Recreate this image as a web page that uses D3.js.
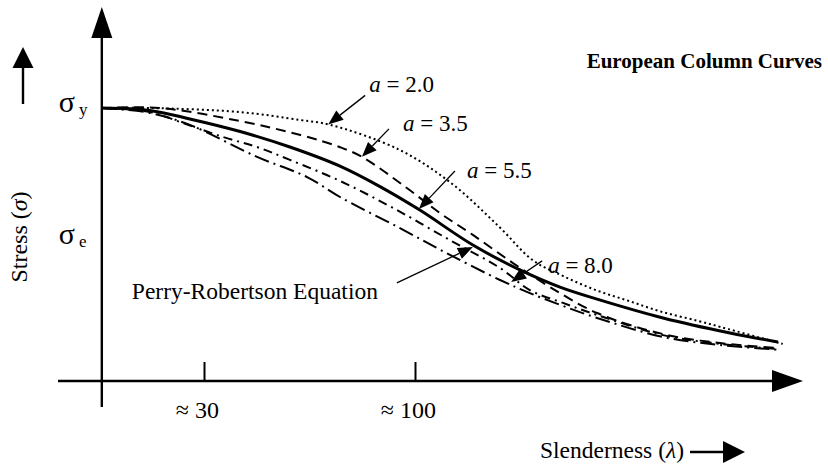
<!DOCTYPE html>
<html>
<head>
<meta charset="utf-8">
<script src="https://cdn.jsdelivr.net/npm/d3@7"></script>
<style>
  body { margin: 0; background: #fff; }
  svg { display: block; }
  text { font-family: "Liberation Serif", "Times New Roman", serif; fill: #000; }
</style>
</head>
<body>
<svg id="chart" width="828" height="467"></svg>
<script>
// Slenderness ticks (approximate values)
const slendernessTicks = [30, 100];
const slendernessTickLabels = ["\u2248 30", "\u2248 100"];

// Stress levels marked on the vertical axis (as a fraction of yield stress)
const stressLevels = [1.0, 0.516];
const stressLevelSymbols = ["y", "e"];

// Column curves: slenderness λ and stress ratio σ/σy
const lambdaA20 = [-3.9, 12, 42, 62, 72, 95, 112, 128, 139, 149, 160, 171, 182, 194, 204, 222];
const stressA20 = [1.0, 1.0, 0.985, 0.956, 0.938, 0.846, 0.725, 0.564, 0.443, 0.385, 0.333, 0.293, 0.253, 0.220, 0.190, 0.136];

const lambdaA35 = [-3.9, 15.4, 42, 62, 75, 82.4, 97.3, 108.3, 119.2, 132.5, 144.8, 160.4, 182.3, 201.2, 220.4];
const stressA35 = [1.0, 1.0, 0.952, 0.901, 0.857, 0.821, 0.707, 0.615, 0.535, 0.432, 0.344, 0.249, 0.172, 0.139, 0.121];

const lambdaA55 = [-3.9, 12, 25.3, 42, 58.5, 75.1, 88.4, 101.6, 119.2, 134.8, 148.1, 160.4, 182.3, 204.5, 220.4];
const stressA55 = [1.0, 0.991, 0.960, 0.914, 0.857, 0.787, 0.712, 0.626, 0.498, 0.407, 0.344, 0.300, 0.231, 0.176, 0.143];

const lambdaA80 = [-3.9, 12, 23, 36.3, 47.6, 58.5, 75.1, 92.7, 111.6, 128.2, 138.1, 149.1, 160.4, 182.3, 201.2, 220.4];
const stressA80 = [1.0, 0.985, 0.945, 0.894, 0.857, 0.810, 0.733, 0.634, 0.516, 0.414, 0.333, 0.286, 0.242, 0.168, 0.136, 0.117];

const lambdaPerry = [-3.9, 12, 25.3, 47.6, 64.2, 75.1, 95, 111.6, 128.2, 138.1, 149.1, 160.4, 182.3, 201.2, 221.1];
const stressPerry = [1.0, 0.982, 0.938, 0.821, 0.747, 0.674, 0.560, 0.462, 0.370, 0.322, 0.275, 0.231, 0.161, 0.132, 0.114];

// Curve labels and the point each pointer touches
const curveLabels = ["a = 2.0", "a = 3.5", "a = 5.5", "a = 8.0", "Perry-Robertson Equation"];
const labelLambda = [71.2, 82.4, 101.3, 131.9, 119.2];
const labelStress = [0.940, 0.821, 0.630, 0.363, 0.491];

const svg = d3.select("#chart");

const x = d3.scaleLinear().domain([30, 100]).range([204, 415]);
const y = d3.scaleLinear().domain([0, 1]).range([381, 108]);

const originLambda = -3.9;
const x0 = x(originLambda);
const y0 = y(0);

function arrowHead(g, x1, y1, x2, y2, len, halfW) {
  const a = Math.atan2(y2 - y1, x2 - x1);
  const bx = x2 - len * Math.cos(a), by = y2 - len * Math.sin(a);
  const px = -Math.sin(a) * halfW, py = Math.cos(a) * halfW;
  g.append("path")
    .attr("d", `M${x2},${y2}L${bx + px},${by + py}L${bx - px},${by - py}Z`)
    .attr("fill", "#000");
  return [bx, by];
}

function arrow(g, x1, y1, x2, y2, len, halfW, width) {
  const [bx, by] = arrowHead(g, x1, y1, x2, y2, len, halfW);
  g.append("line")
    .attr("x1", x1).attr("y1", y1).attr("x2", bx).attr("y2", by)
    .attr("stroke", "#000").attr("stroke-width", width);
}

const axes = svg.append("g");

// Horizontal axis with tick marks rising from the line
const xAxis = d3.axisBottom(x)
  .tickValues(slendernessTicks)
  .tickSize(-19)
  .tickPadding(20)
  .tickFormat((d, i) => slendernessTickLabels[i]);

const xAxisG = axes.append("g")
  .attr("transform", `translate(0,${y0})`)
  .call(xAxis);
xAxisG.select(".domain").remove();
xAxisG.selectAll(".tick line").attr("stroke", "#000").attr("stroke-width", 2);
xAxisG.selectAll(".tick text")
  .attr("font-family", "Liberation Serif")
  .attr("font-size", 24)
  .attr("dx", "-0.3em")
  .attr("fill", "#000");

arrow(axes, 58, y0, 803, y0, 31, 11, 2.4);
arrow(axes, x0, 407, x0, 7, 31, 10.5, 2.4);

// Vertical axis stress marks
const yAxis = d3.axisLeft(y)
  .tickValues(stressLevels)
  .tickSize(0)
  .tickPadding(10)
  .tickFormat(() => "");
const yAxisG = axes.append("g")
  .attr("transform", `translate(${x0},0)`)
  .call(yAxis);
yAxisG.select(".domain").remove();
yAxisG.selectAll(".tick").each(function (d, i) {
  const t = d3.select(this).select("text")
    .attr("x", -43).attr("dy", "0.3em")
    .attr("text-anchor", "start");
  t.append("tspan").attr("font-size", 30).text("\u03c3");
  t.append("tspan").attr("font-size", 17).attr("dx", 4).attr("dy", 3).text(stressLevelSymbols[i]);
});

// Axis titles
svg.append("text")
  .attr("transform", "translate(27,237) rotate(-90)")
  .attr("text-anchor", "middle")
  .attr("font-size", 24)
  .html('Stress (<tspan font-style="italic">\u03c3</tspan>)');

svg.append("text")
  .attr("x", 540).attr("y", 458)
  .attr("font-size", 23.5)
  .html('Slenderness (<tspan font-style="italic">\u03bb</tspan>)');

arrow(svg, 23, 104, 23, 47, 21, 10.5, 2.4);
arrow(svg, 690, 452, 745, 452, 22, 11, 2.4);

svg.append("text")
  .attr("x", 822).attr("y", 68)
  .attr("text-anchor", "end")
  .attr("font-size", 21)
  .attr("font-weight", "bold")
  .text("European Column Curves");

// Column curves
const curveSeries = [
  { lam: lambdaA20, s: stressA20, width: 2, dash: "2,3" },
  { lam: lambdaA35, s: stressA35, width: 2, dash: "10,6" },
  { lam: lambdaA55, s: stressA55, width: 3, dash: null },
  { lam: lambdaA80, s: stressA80, width: 2, dash: "9,5,2,5" },
  { lam: lambdaPerry, s: stressPerry, width: 2, dash: "15,5,2,5" }
];

const line = d3.line()
  .x(d => x(d[0]))
  .y(d => y(d[1]))
  .curve(d3.curveCatmullRom.alpha(0.5));

svg.append("g").selectAll("path")
  .data(curveSeries)
  .join("path")
  .attr("d", c => line(c.lam.map((l, i) => [l, c.s[i]])))
  .attr("fill", "none")
  .attr("stroke", "#000")
  .attr("stroke-width", c => c.width)
  .attr("stroke-dasharray", c => c.dash);

// Curve labels with pointers
const labelLayout = [
  { tail: [37, -29], text: [41, -32] },
  { tail: [27, -28], text: [41, -26] },
  { tail: [36, -38], text: [48, -31] },
  { tail: [31, -21], text: [37, -9] },
  { tail: [-76, 36], text: [-341, 52] }
];

const labels = svg.append("g");
curveLabels.forEach((lab, i) => {
  const tx = x(labelLambda[i]), ty = y(labelStress[i]);
  const L = labelLayout[i];
  arrow(labels, tx + L.tail[0], ty + L.tail[1], tx, ty, 15, 6, 1.3);
  const t = labels.append("text")
    .attr("x", tx + L.text[0]).attr("y", ty + L.text[1])
    .attr("font-size", i === 4 ? 23.5 : 23);
  if (i < 4) {
    t.append("tspan").attr("font-style", "italic").text("a");
    t.append("tspan").text(lab.slice(1));
  } else {
    t.text(lab);
  }
});
</script>
</body>
</html>
